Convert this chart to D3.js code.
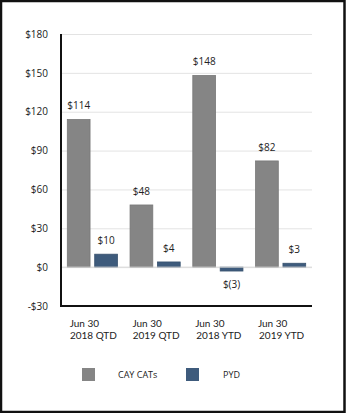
<!DOCTYPE html>
<html>
<head>
<meta charset="utf-8">
<script src="https://cdn.jsdelivr.net/npm/d3@7"></script>
<style>
	html, body { margin: 0; padding: 0; background: #fff; }
	svg { display: block; font-family: "Open Sans", sans-serif; }
</style>
</head>
<body>
<svg id="chart"></svg>
<script>
var categories = [["Jun 30", "2018 QTD"], ["Jun 30", "2019 QTD"], ["Jun 30", "2018 YTD"], ["Jun 30", "2019 YTD"]];
var seriesNames = ["CAY CATs", "PYD"];
var cayCats = [114, 48, 148, 82];
var pyd = [10, 4, -3, 3];
var yTicks = [-30, 0, 30, 60, 90, 120, 150, 180];
var colors = ["#858585", "#3e5b7c"];

var W = 346, H = 413,
	margin = {top: 34, right: 34, bottom: 107, left: 61};

var svg = d3.select("#chart").attr("width", W).attr("height", H);

// frame
svg.append("rect")
	.attr("x", 1).attr("y", 1)
	.attr("width", W - 2.5).attr("height", H - 2)
	.style("fill", "#fff").style("stroke", "#111").style("stroke-width", 2.5);

var plotW = W - margin.left - margin.right,
	plotH = H - margin.top - margin.bottom;

var x0 = d3.scaleBand()
	.domain(d3.range(categories.length))
	.range([margin.left, margin.left + plotW]);

var x1 = d3.scaleBand()
	.domain(seriesNames)
	.range([0, x0.bandwidth()])
	.paddingInner(0.17)
	.paddingOuter(0.23);

var y = d3.scaleLinear()
	.domain([-30, 180])
	.range([margin.top + plotH, margin.top]);

var fmt = function(v) { return v < 0 ? "-$" + Math.abs(v) : "$" + v; };
var fmtLabel = function(v) { return v < 0 ? "$(" + Math.abs(v) + ")" : "$" + v; };

// grid + y labels
var yAxis = svg.append("g")
	.attr("transform", "translate(" + margin.left + ",0)")
	.call(d3.axisLeft(y).tickValues(yTicks).tickSize(-plotW).tickPadding(13).tickFormat(fmt));
yAxis.select(".domain").remove();
yAxis.selectAll(".tick line").style("stroke", "#e3e3e3").style("stroke-width", 1);
yAxis.selectAll(".tick text").style("font-size", "10px").style("fill", "#222").style("font-family", "Open Sans");

var data = categories.map(function(c, i) {
	return [{key: seriesNames[0], value: cayCats[i]}, {key: seriesNames[1], value: pyd[i]}];
});

var groups = svg.selectAll(".grp")
	.data(data)
	.enter().append("g")
	.attr("class", "grp")
	.attr("transform", function(d, i) { return "translate(" + x0(i) + ",0)"; });

groups.selectAll("rect")
	.data(function(d) { return d; })
	.enter().append("rect")
	.attr("x", function(d) { return x1(d.key); })
	.attr("width", x1.bandwidth())
	.attr("y", function(d) { return y(Math.max(0, d.value)); })
	.attr("height", function(d) { return Math.abs(y(d.value) - y(0)); })
	.style("fill", function(d, i) { return colors[i]; })
	.style("stroke", function(d, i) { return d3.color(colors[i]).darker(0.3); })
	.style("stroke-width", 0.8);

groups.selectAll(".val")
	.data(function(d) { return d; })
	.enter().append("text")
	.attr("class", "val")
	.attr("x", function(d) { return x1(d.key) + x1.bandwidth() / 2; })
	.attr("y", function(d) { return d.value < 0 ? y(d.value) + 17 : y(d.value) - 10; })
	.attr("text-anchor", "middle")
	.style("font-size", "10px")
	.style("fill", "#222")
	.text(function(d) { return fmtLabel(d.value); });

// zero line over bars
svg.append("line")
	.attr("x1", margin.left).attr("x2", margin.left + plotW)
	.attr("y1", y(0)).attr("y2", y(0))
	.style("stroke", "#d8d8d8").style("stroke-width", 1);

// axes lines
svg.append("line")
	.attr("x1", margin.left).attr("x2", margin.left)
	.attr("y1", y(180)).attr("y2", y(-30) + 1)
	.style("stroke", "#111").style("stroke-width", 2);
svg.append("line")
	.attr("x1", margin.left - 1).attr("x2", margin.left + plotW)
	.attr("y1", y(-30)).attr("y2", y(-30))
	.style("stroke", "#111").style("stroke-width", 2);

// x labels
var xl = svg.selectAll(".xl")
	.data(categories)
	.enter().append("text")
	.attr("class", "xl")
	.attr("text-anchor", "middle")
	.style("font-size", "10px")
	.style("font-family", "Lato")
	.style("fill", "#222");
xl.append("tspan")
	.attr("x", function(d, i) { return x0(i) + x0.bandwidth() / 2 - 8; })
	.attr("y", y(-30) + 20.5)
	.text(function(d) { return d[0]; });
xl.append("tspan")
	.attr("x", function(d, i) { return x0(i) + x0.bandwidth() / 2 + 1; })
	.attr("y", y(-30) + 32.5)
	.text(function(d) { return d[1]; });

// legend
var legendX = [82, 186];
var legend = svg.selectAll(".lg")
	.data(seriesNames)
	.enter().append("g")
	.attr("class", "lg")
	.attr("transform", function(d, i) { return "translate(" + legendX[i] + ",368)"; });
legend.append("rect")
	.attr("width", 13).attr("height", 13)
	.style("fill", function(d, i) { return colors[i]; });
legend.append("text")
	.attr("x", function(d, i) { return i === 0 ? 36 : 37; })
	.attr("y", 10)
	.style("font-size", "9px")
	.style("fill", "#222")
	.text(function(d) { return d; });
</script>
</body>
</html>
